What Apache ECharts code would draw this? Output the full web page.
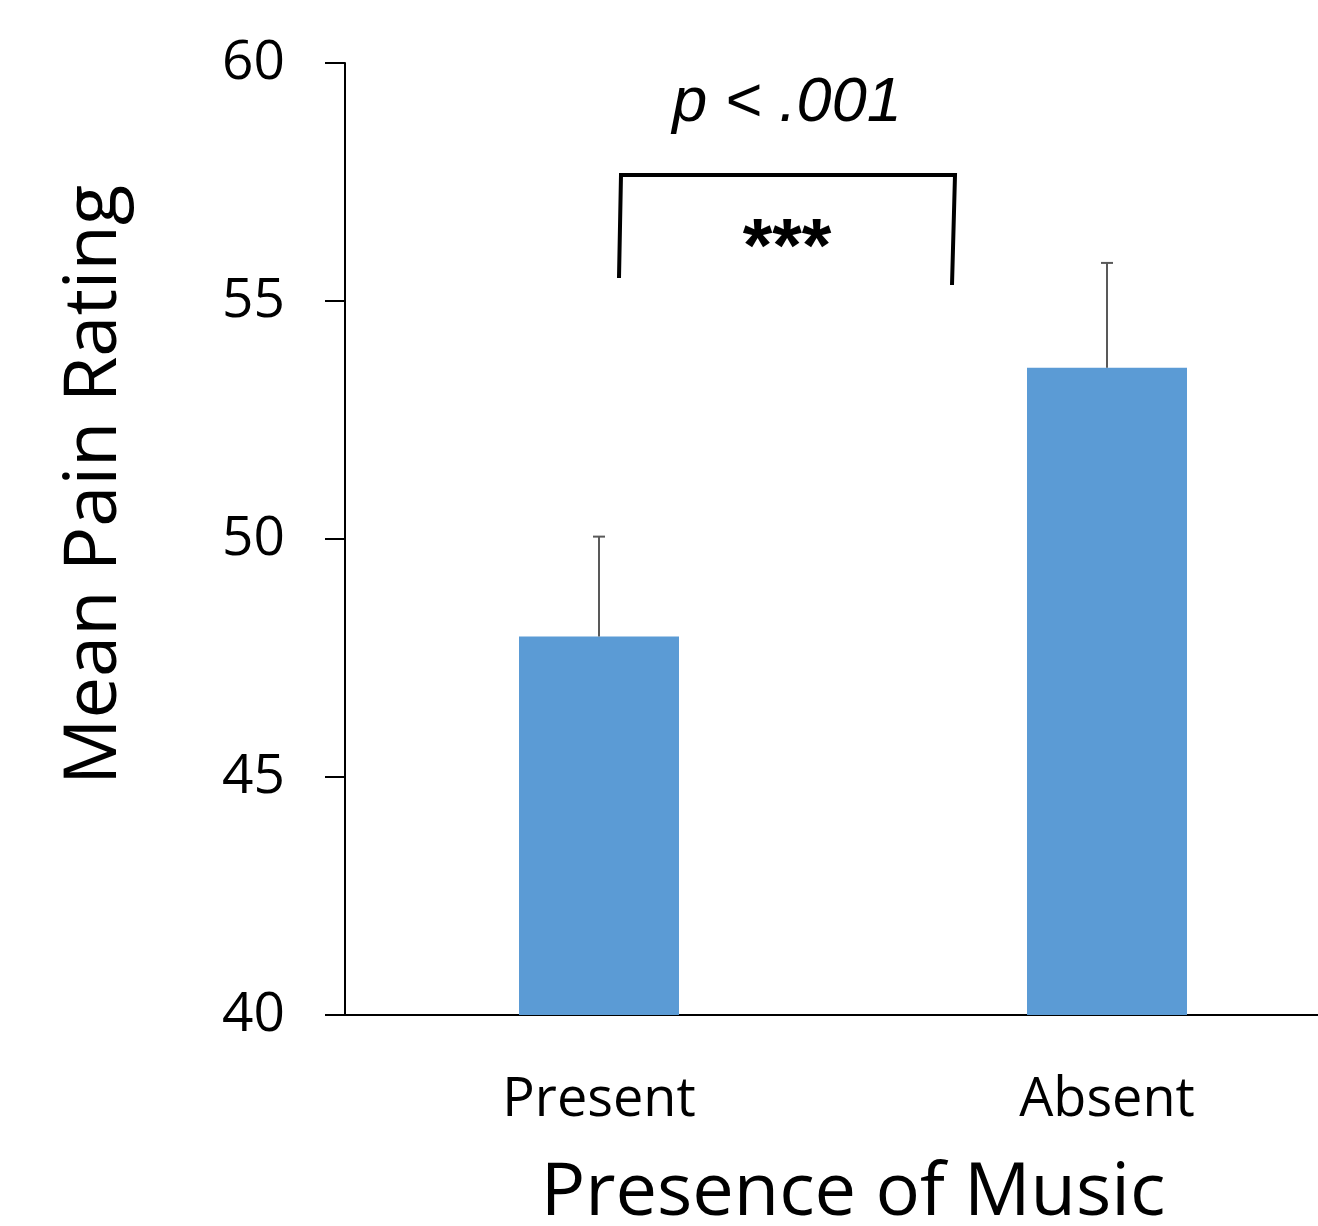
<!DOCTYPE html>
<html>
<head>
<meta charset="utf-8">
<script src="https://cdn.jsdelivr.net/npm/echarts@6/dist/echarts.min.js"></script>
<style>
  html, body { margin: 0; padding: 0; background: #fff; }
  #chart { width: 1318px; height: 1226px; }
</style>
</head>
<body>
<div id="chart"></div>
<script>
const categories = ['Present', 'Absent'];
const meanPain = [47.95, 53.6];
const errorUp = [2.1, 2.2];
const yTicks = [40, 45, 50, 55, 60];

const chart = echarts.init(document.getElementById('chart'));
const font = '"Open Sans", "Noto Sans", sans-serif';

// error bars, top whisker only
function renderError(params, api) {
    const i = api.value(0);
    const top = api.coord([i, api.value(1) + api.value(2)]);
    const base = api.coord([i, api.value(1)]);
    const style = { stroke: '#595959', lineWidth: 2 };
    return {
        type: 'group',
        children: [
            { type: 'line', shape: { x1: base[0], y1: base[1], x2: top[0], y2: top[1] }, style },
            { type: 'line', shape: { x1: top[0] - 6, y1: top[1], x2: top[0] + 6, y2: top[1] }, style }
        ]
    };
}

chart.setOption({
    animation: false,
    grid: { left: 345, top: 63, bottom: 211, width: 1016, containLabel: false, outerBoundsMode: 'none' },
    xAxis: {
        type: 'category',
        data: categories,
        axisLine: { lineStyle: { color: '#000', width: 2 } },
        axisTick: { show: false },
        axisLabel: { color: '#000', fontSize: 54, fontFamily: font, margin: 59 },
        name: 'Presence of Music',
        nameLocation: 'middle',
        nameGap: 142,
        nameTextStyle: { color: '#000', fontSize: 74, fontFamily: font }
    },
    yAxis: {
        type: 'value',
        min: yTicks[0],
        max: yTicks[yTicks.length - 1],
        interval: 5,
        splitLine: { show: false },
        axisLine: { show: true, lineStyle: { color: '#000', width: 2 } },
        axisTick: { show: true, length: 20, lineStyle: { color: '#000', width: 2 } },
        axisLabel: { color: '#000', fontSize: 55, fontFamily: font, margin: 60, padding: [8, 0, 0, 0] }
    },
    graphic: [
        {
            type: 'text', x: 95, y: 485, rotation: Math.PI / 2,
            style: { text: 'Mean Pain Rating', fill: '#000', font: '74px ' + font, align: 'center', verticalAlign: 'middle' }
        },
        {
            type: 'text', x: 787, y: 103,
            style: { text: 'p < .001', fill: '#000', font: 'italic 63px "Liberation Sans", Arial, sans-serif', align: 'center', verticalAlign: 'middle' }
        },
        {
            type: 'text', x: 787, y: 250,
            style: { text: '***', fill: '#000', font: 'bold 76px "Liberation Sans", Arial, sans-serif', align: 'center', verticalAlign: 'middle' }
        },
        {
            type: 'polyline',
            shape: { points: [[619, 278], [621, 175], [955, 175], [952, 285]] },
            style: { stroke: '#000', lineWidth: 4, fill: null }
        }
    ],
    series: [
        {
            type: 'bar',
            data: meanPain,
            barWidth: 160,
            itemStyle: { color: '#5B9BD5' }
        },
        {
            type: 'custom',
            renderItem: renderError,
            data: meanPain.map((v, i) => [i, v, errorUp[i]]),
            z: 3
        }
    ]
});
</script>
</body>
</html>
